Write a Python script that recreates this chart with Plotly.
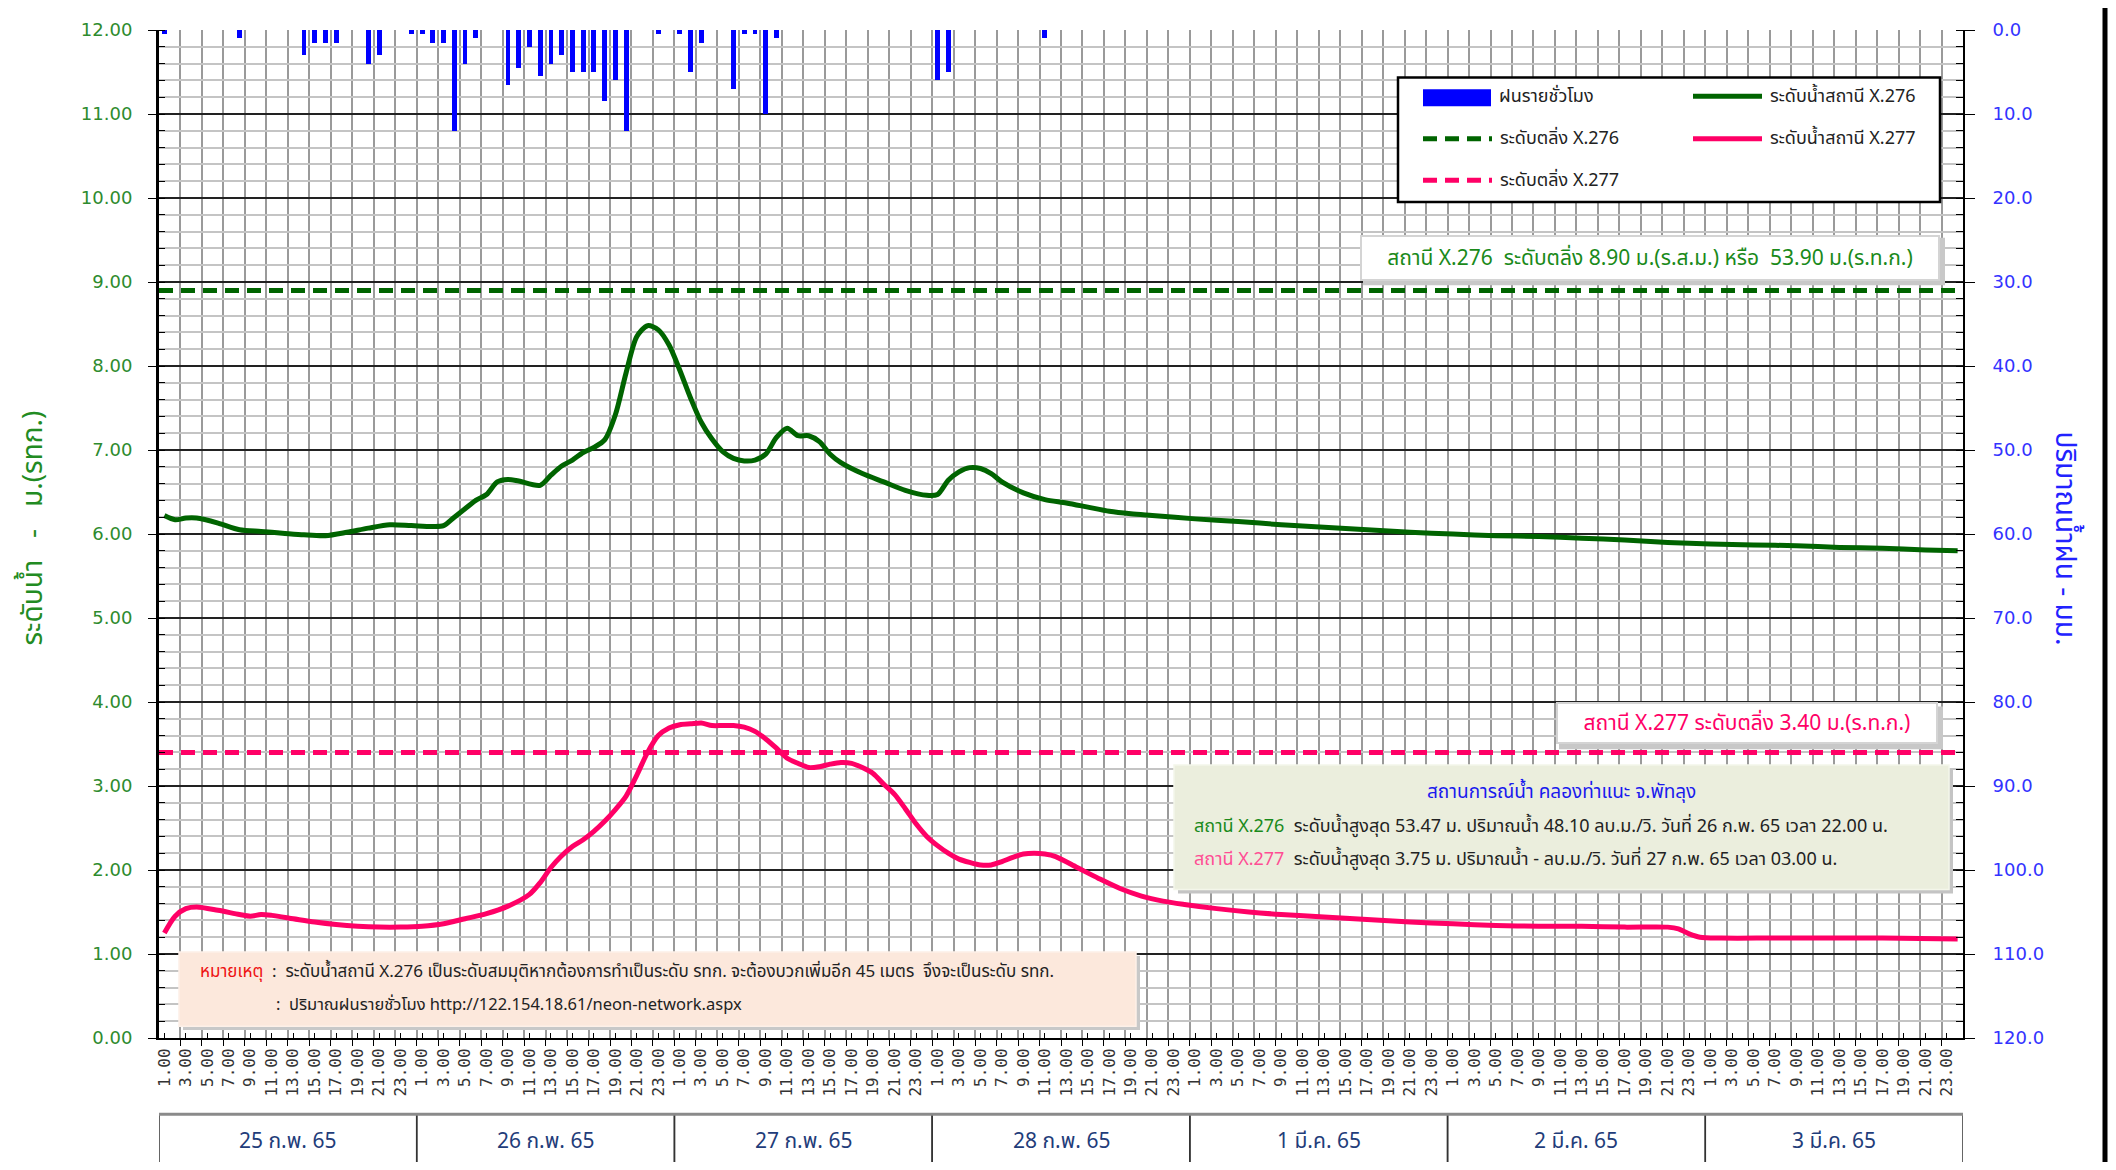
import plotly.graph_objects as go

# ---------------- data ----------------
DAYS = ["25 ก.พ. 65", "26 ก.พ. 65", "27 ก.พ. 65", "28 ก.พ. 65",
        "1 มี.ค. 65", "2 มี.ค. 65", "3 มี.ค. 65"]
HOUR_LABELS = ["1.00", "3.00", "5.00", "7.00", "9.00", "11.00",
               "13.00", "15.00", "17.00", "19.00", "21.00", "23.00"]
HOURS_PER_DAY = 24

# hourly rainfall (hour index from 25 ก.พ. 65 01.00), mm
RAIN_HOUR = [0, 7, 13, 14, 15, 16, 19, 20, 23, 24, 25, 26, 27, 28, 29,
             32, 33, 34, 35, 36, 37, 38, 39, 40, 41, 42, 43, 46, 48, 49, 50,
             53, 54, 55, 56, 57, 72, 73, 82]
RAIN_MM = [0.5, 1.0, 3.0, 1.5, 1.5, 1.5, 4.0, 3.0, 0.5, 0.5, 1.5, 1.5, 12.0, 4.0, 1.0,
           6.5, 4.5, 2.0, 5.5, 4.0, 3.0, 5.0, 5.0, 5.0, 8.5, 6.0, 12.0, 0.5, 0.5, 5.0, 1.5,
           7.0, 0.5, 0.5, 10.0, 1.0, 6.0, 5.0, 1.0]

# water level X.276
X276_HOUR = [0, 1, 2, 3, 5, 7, 9, 11, 13, 15, 17, 19, 21, 23, 25, 26, 27, 28, 29, 30,
             31, 32, 33, 35, 36, 37, 38, 39, 40, 41, 42, 43, 44, 45, 46, 47, 48, 49, 50,
             51, 52, 53, 54, 55, 56, 57, 58, 59, 60, 61, 62, 63, 65, 67, 69, 71, 72, 73,
             74, 75, 76, 77, 78, 80, 82, 84, 86, 88, 90, 92, 96, 100, 104, 108, 112, 116,
             120, 124, 128, 132, 136, 140, 144, 148, 152, 156, 160, 164, 167]
X276_LEVEL = [6.22, 6.17, 6.19, 6.19, 6.13, 6.05, 6.03, 6.01, 5.99, 5.98, 6.02, 6.07,
              6.11, 6.10, 6.09, 6.10, 6.20, 6.30, 6.40, 6.47, 6.62, 6.65, 6.63, 6.58,
              6.70, 6.81, 6.88, 6.97, 7.03, 7.12, 7.42, 7.92, 8.35, 8.48, 8.43, 8.25,
              7.95, 7.62, 7.33, 7.13, 6.98, 6.90, 6.87, 6.88, 6.95, 7.15, 7.26, 7.17,
              7.17, 7.10, 6.95, 6.85, 6.72, 6.62, 6.52, 6.46, 6.47, 6.64, 6.74, 6.79,
              6.78, 6.72, 6.62, 6.49, 6.41, 6.37, 6.32, 6.27, 6.24, 6.22, 6.18, 6.15,
              6.11, 6.08, 6.05, 6.02, 6.00, 5.98, 5.97, 5.95, 5.93, 5.90, 5.88, 5.87,
              5.86, 5.84, 5.83, 5.81, 5.80]

# water level X.277
X277_HOUR = [0, 1, 2, 3, 5, 7, 8, 9, 10, 12, 14, 16, 18, 20, 22, 24, 26, 28, 30, 32,
             34, 35, 36, 37, 38, 39, 40, 41, 42, 43, 44, 45, 46, 47, 48, 49, 50, 51, 52,
             53, 54, 55, 56, 57, 58, 59, 60, 61, 62, 63, 64, 65, 66, 67, 68, 69, 70, 71,
             72, 73, 74, 75, 76, 77, 78, 79, 80, 81, 82, 83, 85, 87, 89, 91, 93, 95, 98,
             101, 104, 108, 112, 116, 120, 124, 128, 132, 136, 140, 141, 142, 143, 145,
             150, 160, 167]
X277_LEVEL = [1.25, 1.45, 1.54, 1.56, 1.52, 1.47, 1.45, 1.47, 1.46, 1.42, 1.38, 1.35,
              1.33, 1.32, 1.32, 1.33, 1.36, 1.42, 1.48, 1.57, 1.71, 1.85, 2.03, 2.17,
              2.28, 2.36, 2.46, 2.58, 2.72, 2.88, 3.13, 3.40, 3.60, 3.69, 3.73, 3.74,
              3.75, 3.72, 3.72, 3.72, 3.70, 3.65, 3.56, 3.45, 3.33, 3.27, 3.22, 3.23,
              3.26, 3.28, 3.27, 3.22, 3.15, 3.02, 2.90, 2.73, 2.55, 2.40, 2.29, 2.20,
              2.13, 2.09, 2.06, 2.06, 2.10, 2.15, 2.19, 2.20, 2.19, 2.16, 2.03, 1.90,
              1.78, 1.69, 1.63, 1.59, 1.54, 1.50, 1.47, 1.44, 1.41, 1.38, 1.36, 1.34,
              1.33, 1.33, 1.32, 1.32, 1.30, 1.24, 1.20, 1.19, 1.19, 1.19, 1.18]

BANK_X276 = 8.90
BANK_X277 = 3.40

# ---------------- styling ----------------
WIN_W, WIN_H = 2116, 1170
OFF = 8                       # default page margin of the html body
FIG_W, FIG_H = WIN_W - 2 * OFF, WIN_H - 2 * OFF   # keep the page from overflowing
# plot area in screen pixels
L, R, T, B = 159, 1963, 19, 1038
THAI = "Tahoma, 'Noto Sans Thai', 'Noto Sans', 'DejaVu Sans', sans-serif"
GREEN = "#006400"
PINK = "#ff0066"
BLUE = "#0000ff"


def px(x):
    return (x - L) / (R - L)


def py(y):
    return (B - y) / (B - T)


n_hours = HOURS_PER_DAY * len(DAYS)
x_lo, x_hi = -0.5, n_hours - 0.5

tickvals, ticktext = [], []
for d in range(len(DAYS)):
    for k, lab in enumerate(HOUR_LABELS):
        tickvals.append(d * HOURS_PER_DAY + 2 * k)
        ticktext.append(lab)

fig = go.Figure()

fig.add_trace(go.Bar(x=RAIN_HOUR, y=RAIN_MM, yaxis="y2", width=0.45,
                     marker=dict(color=BLUE, line=dict(width=0)),
                     name="ฝนรายชั่วโมง", showlegend=False))

fig.add_trace(go.Scatter(x=[x_lo, x_hi], y=[BANK_X276, BANK_X276], mode="lines",
                         line=dict(color=GREEN, width=5, dash="14px,8px"),
                         name="ระดับตลิ่ง X.276", showlegend=False))
fig.add_trace(go.Scatter(x=[x_lo, x_hi], y=[BANK_X277, BANK_X277], mode="lines",
                         line=dict(color=PINK, width=5, dash="14px,8px"),
                         name="ระดับตลิ่ง X.277", showlegend=False))
fig.add_trace(go.Scatter(x=X276_HOUR, y=X276_LEVEL, mode="lines",
                         line=dict(color=GREEN, width=5, shape="spline", smoothing=0.8),
                         name="ระดับน้ำสถานี X.276", showlegend=False))
fig.add_trace(go.Scatter(x=X277_HOUR, y=X277_LEVEL, mode="lines",
                         line=dict(color=PINK, width=5, shape="spline", smoothing=0.8),
                         name="ระดับน้ำสถานี X.277", showlegend=False))

shapes = []
annotations = []


def rect(x0, y0, x1, y1, fill, line_color=None, line_width=0, layer="above"):
    shapes.append(dict(type="rect", xref="paper", yref="paper",
                       x0=px(x0), x1=px(x1), y0=py(y0), y1=py(y1),
                       fillcolor=fill, layer=layer,
                       line=dict(color=line_color or fill, width=line_width)))


def text(x, y, s, size=18, color="#222222", xanchor="left", family=THAI, **kw):
    annotations.append(dict(xref="paper", yref="paper", x=px(x), y=py(y), text=s,
                            showarrow=False, xanchor=xanchor, yanchor="middle",
                            font=dict(family=family, size=size, color=color), **kw))


# legend (manual box)
rect(1398, 67, 1940, 193, "white", "black", 2.5)
rect(1423, 79, 1491, 96, BLUE)
text(1497, 86, "ฝนรายชั่วโมง")
for (x0, yy, col, dash, lab) in [
        (1693, 86, GREEN, "solid", "ระดับน้ำสถานี X.276"),
        (1423, 129, GREEN, "dash", "ระดับตลิ่ง X.276"),
        (1693, 129, PINK, "solid", "ระดับน้ำสถานี X.277"),
        (1423, 171, PINK, "dash", "ระดับตลิ่ง X.277")]:
    shapes.append(dict(type="line", xref="paper", yref="paper", layer="above",
                       x0=px(x0), x1=px(x0 + 69), y0=py(yy), y1=py(yy),
                       line=dict(color=col, width=5,
                                 dash="14px,8px" if dash == "dash" else "solid")))
    text(x0 + 75, yy, lab)

# bank level box X.276
rect(1363, 229, 1945, 277, "#c8c8c8")
annotations.append(dict(xref="paper", yref="paper", x=px(1650), y=py(249),
                        xanchor="center", yanchor="middle", showarrow=False,
                        text="สถานี X.276  ระดับตลิ่ง 8.90 ม.(ร.ส.ม.) หรือ  53.90 ม.(ร.ท.ก.)",
                        font=dict(family=THAI, size=21, color="#1a8a1a"),
                        bgcolor="white", bordercolor="#d4d4d4", borderwidth=2,
                        width=574, height=40))
# bank level box X.277
rect(1559, 703, 1943, 746, "#c8c8c8")
annotations.append(dict(xref="paper", yref="paper", x=px(1747), y=py(720),
                        xanchor="center", yanchor="middle", showarrow=False,
                        text="สถานี X.277 ระดับตลิ่ง 3.40 ม.(ร.ท.ก.)",
                        font=dict(family=THAI, size=21, color=PINK),
                        bgcolor="white", bordercolor="#d4d4d4", borderwidth=2,
                        width=376, height=36))

# situation box
rect(1178, 766, 1953, 892, "#c4c4c4")
rect(1174, 762, 1949, 888, "#ebeedd", "#f4f6ea", 1.5)
text(1561, 790, "สถานการณ์น้ำ คลองท่าแนะ จ.พัทลุง", size=19, color="#1a1aee",
     xanchor="center")
text(1192, 824, "<span style='color:#1a8a1a'>สถานี X.276</span>  ระดับน้ำสูงสุด 53.47 ม. "
     "ปริมาณน้ำ 48.10 ลบ.ม./วิ. วันที่ 26 ก.พ. 65 เวลา 22.00 น.", size=18)
text(1192, 858, "<span style='color:#ff4d94'>สถานี X.277</span>  ระดับน้ำสูงสุด 3.75 ม. "
     "ปริมาณน้ำ - ลบ.ม./วิ. วันที่ 27 ก.พ. 65 เวลา 03.00 น.", size=18)

# note box
rect(183, 955, 1140, 1030, "#c8c8c8")
rect(179, 951, 1136, 1026, "#fce8dc", "#fdf0e8", 1.5)
text(198, 971, "<span style='color:#ee1111'>หมายเหตุ</span>  :  ระดับน้ำสถานี X.276 "
     "เป็นระดับสมมุติหากต้องการทำเป็นระดับ รทก. จะต้องบวกเพิ่มอีก 45 เมตร  จึงจะเป็นระดับ รทก.",
     size=17)
text(274, 1004, ":  ปริมาณฝนรายชั่วโมง http://122.154.18.61/neon-network.aspx", size=16.5)

# axis titles
annotations.append(dict(xref="paper", yref="paper", x=px(34), y=py(523),
                        xanchor="center", yanchor="middle", showarrow=False,
                        textangle=-90, text="ระดับน้ำ   -   ม.(รทก.)",
                        font=dict(family=THAI, size=28, color="#228b22")))
annotations.append(dict(xref="paper", yref="paper", x=px(2065), y=py(533),
                        xanchor="center", yanchor="middle", showarrow=False,
                        textangle=90, text="ปริมาณน้ำฝน - มม.",
                        font=dict(family=THAI, size=28, color="#2222ff")))

# day boxes under the axis
for d, lab in enumerate(DAYS):
    x0 = x_lo + d * HOURS_PER_DAY
    x1 = x0 + HOURS_PER_DAY
    shapes.append(dict(type="rect", xref="x", yref="paper", x0=x0, x1=x1,
                       y0=py(1115), y1=py(1185), layer="above",
                       line=dict(color="#333333", width=1.5), fillcolor="rgba(0,0,0,0)"))
    annotations.append(dict(xref="x", yref="paper", x=(x0 + x1) / 2, y=py(1143),
                            xanchor="center", yanchor="middle", showarrow=False,
                            text=lab, font=dict(family=THAI, size=21, color="#1f3d7a")))
shapes.append(dict(type="line", xref="x", yref="paper", x0=x_lo, x1=x_hi,
                   y0=py(1115), y1=py(1115), line=dict(color="#8a8a8a", width=3)))

# outer frame line on the right
shapes.append(dict(type="line", xref="paper", yref="paper", x0=px(2105), x1=px(2105),
                   y0=py(-10), y1=py(WIN_H + 10), line=dict(color="black", width=5)))

fig.update_layout(
    width=FIG_W, height=FIG_H,
    margin=dict(l=L - OFF, r=(FIG_W + OFF) - R, t=T - OFF, b=(FIG_H + OFF) - B),
    paper_bgcolor="white", plot_bgcolor="white",
    showlegend=False, bargap=0,
    shapes=shapes, annotations=annotations,
    xaxis=dict(range=[x_lo, x_hi], tickmode="array", tickvals=tickvals, ticktext=ticktext,
               tickangle=-90, showgrid=False, zeroline=False,
               ticks="inside", ticklen=5, tickcolor="black", tickwidth=1,
               ticklabelstandoff=2,
               tickfont=dict(family="'DejaVu Sans Mono', monospace", size=16, color="#333333"),
               showline=True, linecolor="black", linewidth=2,
               minor=dict(tick0=x_lo, dtick=2, showgrid=True, gridcolor="#9a9a9a",
                          gridwidth=1.5, ticks="outside", ticklen=6, tickcolor="black")),
    yaxis=dict(range=[0, 12], dtick=1, tickformat=".2f", showgrid=True,
               gridcolor="#222222", gridwidth=1.5, zeroline=False,
               ticks="outside", ticklen=8, tickcolor="black", ticklabelstandoff=12,
               tickfont=dict(family="'DejaVu Sans', sans-serif", size=18, color="#2e8b2e"),
               showline=True, linecolor="black", linewidth=3,
               minor=dict(dtick=0.2, showgrid=True, gridcolor="#c4c4c4", gridwidth=2,
                          ticks="inside", ticklen=6, tickcolor="black")),
    yaxis2=dict(range=[120, 0], dtick=10, tickformat=".1f", overlaying="y", side="right",
                showgrid=False, zeroline=False, ticks="outside", ticklen=10,
                tickcolor="black", ticklabelstandoff=14,
                tickfont=dict(family="'DejaVu Sans', sans-serif", size=18, color="#3333ff"),
                showline=True, linecolor="black", linewidth=2,
                minor=dict(dtick=2, ticks="inside", ticklen=7, tickcolor="black")),
)

fig.write_html("out.html")
